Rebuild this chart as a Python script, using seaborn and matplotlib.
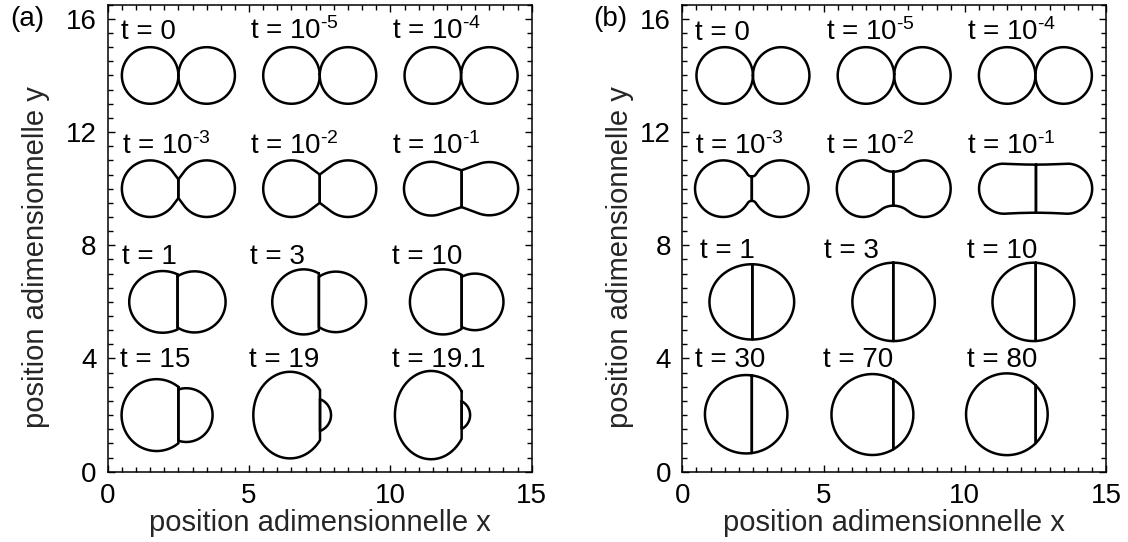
import numpy as np
import pandas as pd
import matplotlib
matplotlib.use("Agg")
import matplotlib.pyplot as plt
from matplotlib.ticker import MultipleLocator, FixedLocator
import seaborn as sns

# ---------------- data ----------------
x_ticks = [0, 5, 10, 15]
y_ticks = [0, 4, 8, 12, 16]
x_label = "position adimensionnelle x"
y_label = "position adimensionnelle y"

# panel (a)
a_labels = ["t = 0", "t = 10$^{\u20105}$", "t = 10$^{\u20104}$",
            "t = 10$^{\u20103}$", "t = 10$^{\u20102}$", "t = 10$^{\u20101}$",
            "t = 1", "t = 3", "t = 10",
            "t = 15", "t = 19", "t = 19.1"]
a_label_x = [0.47, 5.05, 10.05, 0.49, 5.05, 10.05, 0.49, 5.05, 10.07, 0.43, 5.01, 10.07]
a_label_y = [15.28, 15.28, 15.28, 11.23, 11.23, 11.23, 7.34, 7.34, 7.34, 3.70, 3.70, 3.70]
a_xi = [2.5, 7.5, 12.5, 2.5, 7.5, 12.52, 2.47, 7.47, 12.52, 2.5, 7.51, 12.52]
a_cy = [14, 14, 14, 10, 10, 10, 6, 6, 6, 2, 2, 2]
a_left_cx = [1.5, 6.5, 11.5, 1.5, 6.5, 11.45, 1.94, 6.93, 11.86, 1.73, 6.45, 11.44]
a_left_rx = [1.0, 1.0, 1.0, 1.0, 1.0, 0.97, 1.18, 1.11, 1.17, 1.24, 1.30, 1.28]
a_left_ry = [1.0, 1.0, 1.0, 1.0, 1.0, 0.95, 1.09, 1.15, 1.15, 1.27, 1.53, 1.56]
a_right_cx = [3.5, 8.5, 13.5, 3.5, 8.5, 13.5, 3.07, 8.07, 12.99, 2.78, 7.30, 12.27]
a_right_rx = [1.0, 1.0, 1.0, 1.0, 1.0, 1.02, 1.10, 1.07, 1.01, 0.93, 0.60, 0.55]
a_right_ry = [1.0, 1.0, 1.0, 1.0, 1.0, 0.94, 1.08, 1.07, 1.00, 0.95, 0.60, 0.55]
a_neck = [0.0, 0.05, 0.10, 0.33, 0.50, 0.65, 0, 0, 0, 0, 0, 0]

# panel (b)
b_labels = ["t = 0", "t = 10$^{\u20105}$", "t = 10$^{\u20104}$",
            "t = 10$^{\u20103}$", "t = 10$^{\u20102}$", "t = 10$^{\u20101}$",
            "t = 1", "t = 3", "t = 10",
            "t = 30", "t = 70", "t = 80"]
b_label_x = [0.46, 5.08, 10.08, 0.46, 5.08, 10.08, 0.63, 5.02, 10.07, 0.45, 4.99, 10.07]
b_label_y = [15.26, 15.26, 15.26, 11.23, 11.23, 11.23, 7.54, 7.54, 7.54, 3.71, 3.71, 3.71]
b_xi = [2.5, 7.5, 12.5, 2.46, 7.47, 12.52, 2.48, 7.47, 12.51, 2.46, 7.47, 12.51]
b_cy = [14, 14, 14, 10, 10, 10, 6, 6, 6, 2.03, 2.02, 2.03]
b_left_cx = [1.5, 6.5, 11.5, 1.45, 6.40, 11.39, 2.46, 7.48, 12.43, 2.26, 6.73, 11.49]
b_left_rx = [1.0, 1.0, 1.0, 1.0, 0.93, 0.885, 1.50, 1.46, 1.45, 1.46, 1.45, 1.445]
b_left_ry = [1.0, 1.0, 1.0, 1.0, 1.00, 0.885, 1.33, 1.385, 1.385, 1.385, 1.43, 1.445]
b_right_cx = [3.5, 8.5, 13.5, 3.47, 8.57, 13.625, 2.46, 7.48, 12.43, 2.26, 6.73, 11.49]
b_right_rx = [1.0, 1.0, 1.0, 1.0, 0.93, 0.885, 1.50, 1.46, 1.45, 1.46, 1.45, 1.445]
b_right_ry = [1.0, 1.0, 1.0, 1.0, 1.00, 0.885, 1.33, 1.385, 1.385, 1.385, 1.43, 1.445]
b_neck = [0.0, 0.05, 0.10, 0.43, 0.60, 0.85, 0, 0, 0, 0, 0, 0]


# ---------------- geometry helpers ----------------
def lobe_outline(xi, cx, cy, rx, ry, h, side, style, n=260):
    """Closed outline of one lobe; side=+1 left lobe, -1 right lobe."""
    u = side * (xi - cx) / rx
    chord = ry * np.sqrt(1 - u * u) if abs(u) < 1 else 0.0

    def to_xy(X, Y):
        return cx + side * rx * np.asarray(X), cy + ry * np.asarray(Y)

    if h == 0 or h <= chord:
        phi0 = np.arccos(np.clip(u, -1, 1)) if u < 1 else 0.0
        phi = np.linspace(phi0, 2 * np.pi - phi0, n)
        X, Y = np.cos(phi), np.sin(phi)
        if phi0 > 0:
            X = np.append(X, X[0])
            Y = np.append(Y, Y[0])
        return to_xy(X, Y)

    hp = h / ry
    if style == "line":
        r = np.hypot(u, hp)
        phiT = np.arctan2(hp, u) + np.arccos(1 / r)
        phi = np.linspace(phiT, 2 * np.pi - phiT, n)
        X = np.concatenate([[u], np.cos(phi), [u], [u]])
        Y = np.concatenate([[hp], np.sin(phi), [-hp], [hp]])
    else:
        rf = (u * u + hp * hp - 1) / (2 * (1 - hp))
        Fx, Fy = u, hp + rf
        aT = np.arctan2(-Fy, -Fx)
        al = np.linspace(-np.pi / 2, aT, 50)
        fx = Fx + rf * np.cos(al)
        fy = Fy + rf * np.sin(al)
        phiT = np.arctan2(Fy, Fx)
        phi = np.linspace(phiT, 2 * np.pi - phiT, n)
        X = np.concatenate([fx, np.cos(phi), fx[::-1], [u]])
        Y = np.concatenate([fy, np.sin(phi), -fy[::-1], [hp]])
    return to_xy(X, Y)


def build_frame(xi, cy, lcx, lrx, lry, rcx, rrx, rry, neck, style):
    rows = []
    seg = 0
    for i in range(len(xi)):
        for side, cx, rx, ry in ((1, lcx[i], lrx[i], lry[i]), (-1, rcx[i], rrx[i], rry[i])):
            x, y = lobe_outline(xi[i], cx, cy[i], rx, ry, neck[i], side, style)
            rows.append(pd.DataFrame({"x": x, "y": y, "seg": seg}))
            seg += 1
    return pd.concat(rows, ignore_index=True)


df_a = build_frame(a_xi, a_cy, a_left_cx, a_left_rx, a_left_ry,
                   a_right_cx, a_right_rx, a_right_ry, a_neck, "line")
df_b = build_frame(b_xi, b_cy, b_left_cx, b_left_rx, b_left_ry,
                   b_right_cx, b_right_rx, b_right_ry, b_neck, "fillet")

# ---------------- style ----------------
sns.set_style("ticks")
plt.rcParams["font.family"] = ["Liberation Sans", "DejaVu Sans"]
plt.rcParams["mathtext.fontset"] = "custom"
plt.rcParams["mathtext.rm"] = "Liberation Sans"
plt.rcParams["mathtext.it"] = "Liberation Sans:italic"
plt.rcParams["mathtext.bf"] = "Liberation Sans:bold"
plt.rcParams["mathtext.sf"] = "Liberation Sans"
plt.rcParams["mathtext.default"] = "regular"
plt.rcParams["axes.edgecolor"] = "black"
plt.rcParams["text.color"] = "black"
plt.rcParams["xtick.color"] = "black"
plt.rcParams["ytick.color"] = "black"

fig = plt.figure(figsize=(11.28, 5.42), dpi=100)
fig.patch.set_facecolor("white")

ax_a = fig.add_axes([0.0955, 0.1297, 0.3759, 0.8616])
ax_b = fig.add_axes([0.6049, 0.1297, 0.3756, 0.8616])

panels = [
    (ax_a, df_a, a_labels, a_label_x, a_label_y, "(a)", 0.0095, -0.136),
    (ax_b, df_b, b_labels, b_label_x, b_label_y, "(b)", 0.5257, -0.113),
]

for ax, df, labels, lx, ly, tag, tagx, ylab_x in panels:
    sns.lineplot(data=df, x="x", y="y", units="seg", estimator=None, sort=False,
                 color="black", linewidth=1.8, ax=ax, legend=False)
    for lab, tx, ty in zip(labels, lx, ly):
        ax.text(tx, ty, lab, fontsize=20, ha="left", va="baseline")
    ax.set_xlim(0, 15)
    ax.set_ylim(0, 16.5)
    ax.xaxis.set_major_locator(FixedLocator(x_ticks))
    ax.yaxis.set_major_locator(FixedLocator(y_ticks))
    ax.xaxis.set_minor_locator(MultipleLocator(0.5))
    ax.yaxis.set_minor_locator(MultipleLocator(0.5))
    ax.set_xticklabels([str(v) for v in x_ticks])
    ax.set_yticklabels([str(v) for v in y_ticks])
    ax.tick_params(which="both", direction="in", top=True, right=True,
                   width=1.0, labelsize=20, pad=8)
    ax.tick_params(which="major", length=5.3)
    ax.tick_params(which="minor", length=3.3)
    for sp in ax.spines.values():
        sp.set_visible(True)
        sp.set_linewidth(1.1)
        sp.set_color("black")
    ax.set_xlabel(x_label, fontsize=21)
    ax.set_ylabel(y_label, fontsize=21)
    ax.xaxis.set_label_coords(0.5, -0.08)
    ax.yaxis.set_label_coords(ylab_x, 0.46)
    ax.set_facecolor("white")
    fig.text(tagx, 0.965, tag, fontsize=20, ha="left", va="center")

fig.savefig("out.png", dpi=100, facecolor="white")
